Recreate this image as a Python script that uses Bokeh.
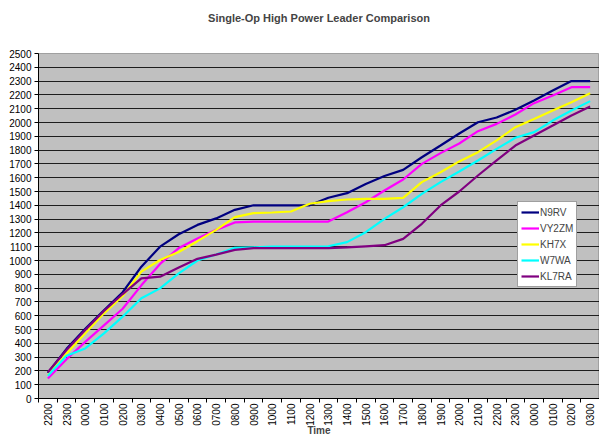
import math
from bokeh.plotting import figure
from bokeh.models import FixedTicker, Legend, LegendItem, ColumnDataSource
from bokeh.embed import file_html
from bokeh.resources import INLINE

hours = ["2200", "2300", "0000", "0100", "0200", "0300", "0400", "0500", "0600", "0700",
         "0800", "0900", "1000", "1100", "1200", "1300", "1400", "1500", "1600", "1700",
         "1800", "1900", "2000", "2100", "2200", "2300", "0000", "0100", "0200", "0300"]

n9rv = [185, 360, 505, 640, 770, 955, 1100, 1190, 1258, 1305, 1367, 1400, 1400, 1400, 1400,
        1455, 1488, 1555, 1612, 1657, 1748, 1833, 1920, 2002, 2036, 2092, 2160, 2232, 2300, 2300]
vy2zm = [145, 285, 410, 530, 650, 820, 975, 1090, 1160, 1222, 1276, 1282, 1282, 1282, 1282,
         1282, 1350, 1422, 1507, 1587, 1700, 1778, 1848, 1937, 1990, 2058, 2140, 2196, 2256, 2256]
kh7x = [170, 327, 472, 617, 743, 919, 1004, 1062, 1140, 1222, 1314, 1343, 1348, 1355, 1411,
        1430, 1442, 1447, 1447, 1454, 1568, 1640, 1718, 1785, 1870, 1966, 2026, 2087, 2147, 2212]
w7wa = [165, 310, 363, 472, 593, 726, 798, 907, 1000, 1043, 1092, 1096, 1100, 1100, 1100,
        1103, 1133, 1205, 1302, 1386, 1483, 1568, 1645, 1725, 1809, 1889, 1930, 2014, 2087, 2155]
kl7ra = [190, 351, 496, 634, 757, 871, 883, 950, 1012, 1043, 1077, 1090, 1090, 1090, 1090,
         1090, 1095, 1103, 1111, 1157, 1266, 1399, 1500, 1616, 1725, 1833, 1906, 1978, 2051, 2116]

series = [("N9RV", n9rv, "#000080"), ("VY2ZM", vy2zm, "#FF00FF"), ("KH7X", kh7x, "#FFFF00"),
          ("W7WA", w7wa, "#00FFFF"), ("KL7RA", kl7ra, "#800080")]

title_text = "Single-Op High Power Leader Comparison"
x_title = "Time"

xs = list(range(len(hours)))
FONT = "Liberation Sans"

p = figure(width=599, height=438, output_backend="svg", toolbar_location=None,
           x_range=(-0.5, len(hours) - 0.5), y_range=(0, 2500),
           min_border_left=38, min_border_right=0, min_border_top=53, min_border_bottom=40)
# two trailing blank lines lift the title line toward the top of the canvas
p.title.text = title_text + "\n \n "
p.title.align = "center"
p.title.text_font = FONT
p.title.text_font_size = "11px"
p.title.text_font_style = "bold"
p.title.standoff = 11

p.border_fill_color = "white"
p.background_fill_color = "#C0C0C0"
p.outline_line_color = "#A0A0A0"

# y axis
p.yaxis.ticker = FixedTicker(ticks=list(range(0, 2501, 100)))
p.yaxis.major_label_text_font = FONT
p.yaxis.major_label_text_font_size = "10px"
p.yaxis.major_label_text_color = "black"
p.yaxis.major_tick_out = 4
p.yaxis.major_tick_in = 0
p.yaxis.minor_tick_out = 0
p.yaxis.minor_tick_in = 0
p.yaxis.axis_line_color = "black"
p.yaxis.major_label_standoff = 3

# x axis
p.xaxis.ticker = FixedTicker(ticks=xs, minor_ticks=[i - 0.5 for i in range(len(hours) + 1)])
p.xaxis.major_label_overrides = {i: h for i, h in enumerate(hours)}
p.xaxis.major_label_orientation = math.pi / 2
p.xaxis.major_label_text_font = FONT
p.xaxis.major_label_text_font_size = "10px"
p.xaxis.major_label_text_color = "black"
p.xaxis.major_tick_out = 0
p.xaxis.major_tick_in = 0
p.xaxis.minor_tick_out = 4
p.xaxis.minor_tick_in = 0
p.xaxis.minor_tick_line_color = "black"
p.xaxis.axis_line_color = "black"
p.xaxis.major_label_standoff = 1
p.xaxis.axis_label = x_title
p.xaxis.axis_label_text_font = FONT
p.xaxis.axis_label_text_font_size = "10px"
p.xaxis.axis_label_text_font_style = "bold"
p.xaxis.axis_label_standoff = -4

p.xgrid.grid_line_color = None
p.ygrid.ticker = FixedTicker(ticks=list(range(0, 2501, 100)))
p.ygrid.grid_line_color = "black"
p.ygrid.grid_line_alpha = 0.85
p.ygrid.grid_line_width = 1

items = []
for name, vals, color in series:
    src = ColumnDataSource(dict(x=xs, y=vals))
    r = p.line("x", "y", source=src, line_color=color, line_width=2.2)
    items.append(LegendItem(label=name, renderers=[r]))

legend = Legend(items=items, location=(479, 111))
legend.label_text_font = FONT
legend.label_text_font_size = "10px"
legend.label_height = 14
legend.glyph_height = 14
legend.glyph_width = 18
legend.label_standoff = 1
legend.spacing = 2
legend.padding = 3
legend.margin = 0
legend.border_line_color = "#404040"
legend.border_line_width = 1
legend.background_fill_color = "white"
legend.background_fill_alpha = 1.0
p.add_layout(legend, "center")

open("out.html", "w").write(file_html(p, INLINE))
